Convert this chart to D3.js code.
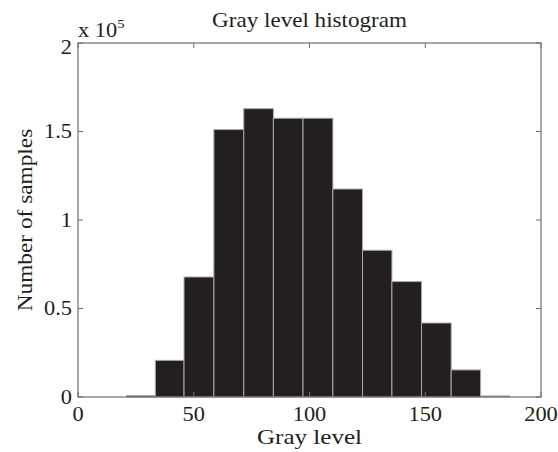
<!DOCTYPE html>
<html>
<head>
<meta charset="utf-8">
<script src="https://cdn.jsdelivr.net/npm/d3@7"></script>
<style>
  body { margin: 0; background: #fff; }
  text { font-family: "Liberation Serif", "Times New Roman", serif; fill: #231f20; }
</style>
</head>
<body>
<div id="chart"></div>
<script>
// histogram bins (gray level edges) and counts
const binEdges = [21, 33.4, 45.8, 58.7, 71.6, 84.4, 97.2, 110.1, 122.9, 135.6, 148.4, 161.2, 173.9, 186.5];
const counts = [800, 20700, 67800, 151100, 162900, 157500, 157500, 117500, 82900, 65200, 41800, 15300, 600];
const xTicks = [0, 50, 100, 150, 200];
const yTicks = [0, 50000, 100000, 150000, 200000];

const W = 558, H = 452;
const margin = {top: 43, right: 17, bottom: 55, left: 78};
const width = W - margin.left - margin.right;
const height = H - margin.top - margin.bottom;

const bins = counts.map((c, i) => ({x0: binEdges[i], x1: binEdges[i + 1], n: c}));

const svg = d3.select("#chart").append("svg")
    .attr("width", W).attr("height", H);

const g = svg.append("g")
    .attr("transform", `translate(${margin.left},${margin.top})`);

const x = d3.scaleLinear().domain([0, 200]).range([0, width]);
const y = d3.scaleLinear().domain([0, 200000]).range([height, 0]);

const axisColor = "#6d6e70";

// bars
g.selectAll(".bar")
    .data(bins)
    .enter()
    .append("rect")
    .attr("class", "bar")
    .attr("x", d => x(d.x0))
    .attr("y", d => y(d.n))
    .attr("width", d => x(d.x1) - x(d.x0))
    .attr("height", d => height - y(d.n))
    .attr("fill", "#231f20")
    .attr("stroke", "#a7a9ac")
    .attr("stroke-width", 1);

// box
g.append("rect")
    .attr("x", 0).attr("y", 0)
    .attr("width", width).attr("height", height)
    .attr("fill", "none")
    .attr("stroke", axisColor)
    .attr("stroke-width", 1.2);

// inward ticks on all four sides
const tl = 5;
g.selectAll(".xt-top").data(xTicks).enter().append("line")
    .attr("x1", d => x(d)).attr("x2", d => x(d))
    .attr("y1", 0).attr("y2", tl)
    .attr("stroke", axisColor);
g.selectAll(".xt-bot").data(xTicks).enter().append("line")
    .attr("x1", d => x(d)).attr("x2", d => x(d))
    .attr("y1", height).attr("y2", height - tl)
    .attr("stroke", axisColor);
g.selectAll(".yt-left").data(yTicks).enter().append("line")
    .attr("x1", 0).attr("x2", tl)
    .attr("y1", d => y(d)).attr("y2", d => y(d))
    .attr("stroke", axisColor);
g.selectAll(".yt-right").data(yTicks).enter().append("line")
    .attr("x1", width).attr("x2", width - tl)
    .attr("y1", d => y(d)).attr("y2", d => y(d))
    .attr("stroke", axisColor);

// tick labels (glyphs in the figure are a bit wider than Times)
const sx = 1.12;
g.selectAll(".xl").data(xTicks).enter().append("text")
    .attr("transform", d => `translate(${x(d)},${height + 24}) scale(${sx},1)`)
    .attr("text-anchor", "middle")
    .style("font-size", "20px")
    .text(d => d);

g.selectAll(".yl").data(yTicks).enter().append("text")
    .attr("transform", d => `translate(-6,${y(d) + (d === 200000 ? 11 : 6.5)}) scale(${sx},1)`)
    .attr("text-anchor", "end")
    .style("font-size", "20px")
    .text(d => d3.format("~g")(d / 1e5));

// exponent label
const ex = g.append("text")
    .attr("transform", `translate(0,-6) scale(${sx},1)`)
    .style("font-size", "20px");
ex.append("tspan").text("x 10");
ex.append("tspan").attr("dy", -9).style("font-size", "13px").text("5");

// title
svg.append("text")
    .attr("transform", `translate(${margin.left + width / 2},27) scale(1.05,1)`)
    .attr("text-anchor", "middle")
    .style("font-size", "22px")
    .text("Gray level histogram");

// axis labels
svg.append("text")
    .attr("transform", `translate(${margin.left + width / 2},444) scale(1.14,1)`)
    .attr("text-anchor", "middle")
    .style("font-size", "22px")
    .text("Gray level");

svg.append("text")
    .attr("transform", `translate(32,${margin.top + height / 2}) rotate(-90) scale(1.06,1)`)
    .attr("text-anchor", "middle")
    .style("font-size", "22px")
    .text("Number of samples");
</script>
</body>
</html>
